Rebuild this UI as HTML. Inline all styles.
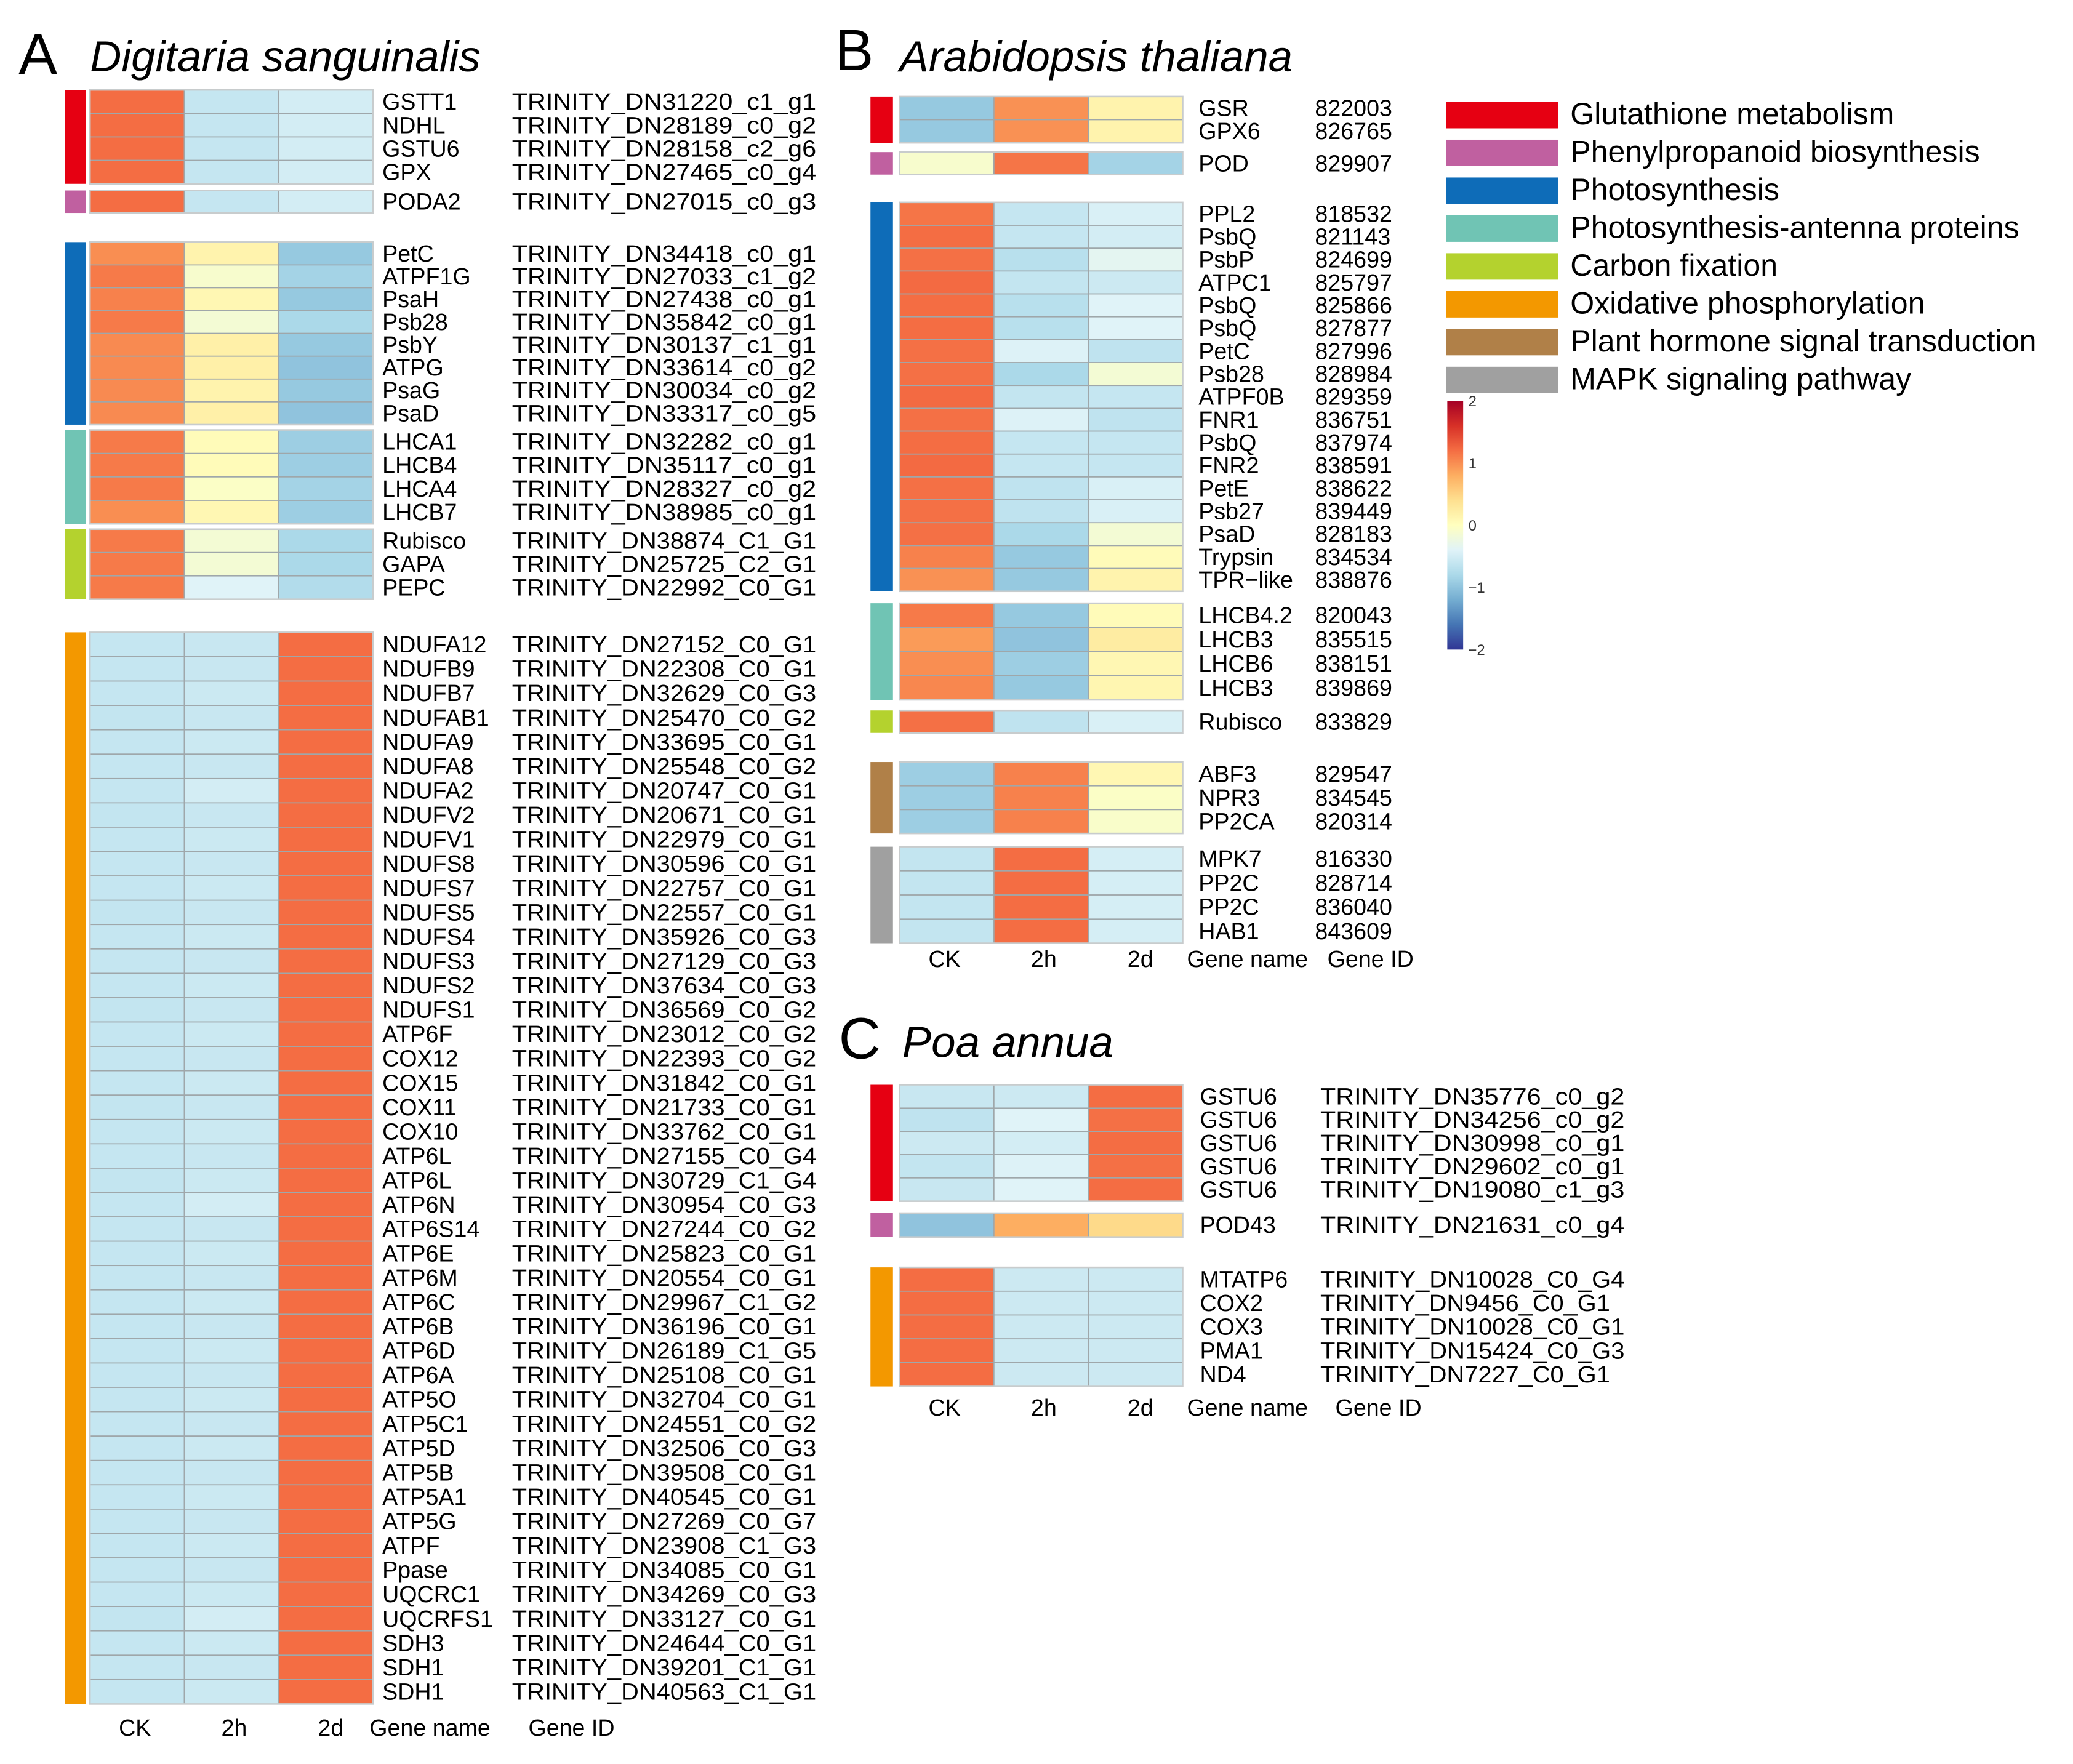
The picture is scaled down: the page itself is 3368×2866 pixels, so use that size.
<!DOCTYPE html>
<html><head><meta charset="utf-8"><style>
html,body{margin:0;padding:0;background:#fff}
svg{display:block;font-family:"Liberation Sans",Arial,sans-serif}
</style></head><body>
<svg id="fig" xmlns="http://www.w3.org/2000/svg" width="3368" height="2866" viewBox="0 0 1567 1333.4" preserveAspectRatio="none">
<rect width="1567" height="1334" fill="#fff"/>
<text x="14" y="56" font-size="44">A</text>
<text x="68" y="54" font-size="33" font-style="italic">Digitaria sanguinalis</text>
<text x="631" y="53" font-size="44">B</text>
<text x="680" y="54" font-size="33" font-style="italic">Arabidopsis thaliana</text>
<text x="634" y="800" font-size="44">C</text>
<text x="682" y="799" font-size="33" font-style="italic">Poa annua</text>
<g id="legend"></g>
<g id="cbar"></g>
<g id="pa"></g>
<g id="pb"></g>
<g id="pc"></g>
</svg>
<script>
// ---------- data ----------
const conditions = ["CK","2h","2d"];
const pathwayNames = ["Glutathione metabolism","Phenylpropanoid biosynthesis","Photosynthesis","Photosynthesis-antenna proteins","Carbon fixation","Oxidative phosphorylation","Plant hormone signal transduction","MAPK signaling pathway"];
const pathwayColors = ["#E60012","#C060A0","#0E6CB8","#70C4B4","#B4D22E","#F39800","#B08048","#A0A0A0"];
const scaleTicks = [2,1,0,-1,-2];

// Panel A
const aNames = ["GSTT1","NDHL","GSTU6","GPX","PODA2","PetC","ATPF1G","PsaH","Psb28","PsbY","ATPG","PsaG","PsaD","LHCA1","LHCB4","LHCA4","LHCB7","Rubisco","GAPA","PEPC",
"NDUFA12","NDUFB9","NDUFB7","NDUFAB1","NDUFA9","NDUFA8","NDUFA2","NDUFV2","NDUFV1","NDUFS8","NDUFS7","NDUFS5","NDUFS4","NDUFS3","NDUFS2","NDUFS1","ATP6F","COX12","COX15","COX11","COX10","ATP6L","ATP6L","ATP6N","ATP6S14","ATP6E","ATP6M","ATP6C","ATP6B","ATP6D","ATP6A","ATP5O","ATP5C1","ATP5D","ATP5B","ATP5A1","ATP5G","ATPF","Ppase","UQCRC1","UQCRFS1","SDH3","SDH1","SDH1"];
const aIds = ["TRINITY_DN31220_c1_g1","TRINITY_DN28189_c0_g2","TRINITY_DN28158_c2_g6","TRINITY_DN27465_c0_g4","TRINITY_DN27015_c0_g3",
"TRINITY_DN34418_c0_g1","TRINITY_DN27033_c1_g2","TRINITY_DN27438_c0_g1","TRINITY_DN35842_c0_g1","TRINITY_DN30137_c1_g1","TRINITY_DN33614_c0_g2","TRINITY_DN30034_c0_g2","TRINITY_DN33317_c0_g5",
"TRINITY_DN32282_c0_g1","TRINITY_DN35117_c0_g1","TRINITY_DN28327_c0_g2","TRINITY_DN38985_c0_g1","TRINITY_DN38874_C1_G1","TRINITY_DN25725_C2_G1","TRINITY_DN22992_C0_G1",
"TRINITY_DN27152_C0_G1","TRINITY_DN22308_C0_G1","TRINITY_DN32629_C0_G3","TRINITY_DN25470_C0_G2","TRINITY_DN33695_C0_G1","TRINITY_DN25548_C0_G2","TRINITY_DN20747_C0_G1","TRINITY_DN20671_C0_G1","TRINITY_DN22979_C0_G1","TRINITY_DN30596_C0_G1","TRINITY_DN22757_C0_G1","TRINITY_DN22557_C0_G1","TRINITY_DN35926_C0_G3","TRINITY_DN27129_C0_G3","TRINITY_DN37634_C0_G3","TRINITY_DN36569_C0_G2","TRINITY_DN23012_C0_G2","TRINITY_DN22393_C0_G2","TRINITY_DN31842_C0_G1","TRINITY_DN21733_C0_G1","TRINITY_DN33762_C0_G1","TRINITY_DN27155_C0_G4","TRINITY_DN30729_C1_G4","TRINITY_DN30954_C0_G3","TRINITY_DN27244_C0_G2","TRINITY_DN25823_C0_G1","TRINITY_DN20554_C0_G1","TRINITY_DN29967_C1_G2","TRINITY_DN36196_C0_G1","TRINITY_DN26189_C1_G5","TRINITY_DN25108_C0_G1","TRINITY_DN32704_C0_G1","TRINITY_DN24551_C0_G2","TRINITY_DN32506_C0_G3","TRINITY_DN39508_C0_G1","TRINITY_DN40545_C0_G1","TRINITY_DN27269_C0_G7","TRINITY_DN23908_C1_G3","TRINITY_DN34085_C0_G1","TRINITY_DN34269_C0_G3","TRINITY_DN33127_C0_G1","TRINITY_DN24644_C0_G1","TRINITY_DN39201_C1_G1","TRINITY_DN40563_C1_G1"];
const aCK = [1.2,1.2,1.2,1.2,1.2, 1.0,1.12,1.08,1.12,1.02,1.02,1.02,1.02, 1.12,1.12,1.12,1.0, 1.12,1.12,1.12,
-0.6,-0.6,-0.6,-0.62,-0.6,-0.6,-0.6,-0.62,-0.6,-0.6,-0.6,-0.62,-0.6,-0.6,-0.6,-0.62,-0.6,-0.6,-0.6,-0.62,-0.6,-0.6,-0.62,-0.6,-0.6,-0.6,-0.6,-0.6,-0.6,-0.6,-0.6,-0.6,-0.6,-0.6,-0.6,-0.6,-0.6,-0.6,-0.6,-0.6,-0.62,-0.6,-0.6,-0.6];
const a2h = [-0.6,-0.6,-0.6,-0.6,-0.6, 0.15,-0.1,0.1,-0.15,0.2,0.2,0.15,0.2, 0.05,0.05,-0.05,0.1, -0.15,-0.15,-0.4,
-0.58,-0.58,-0.56,-0.58,-0.56,-0.58,-0.5,-0.58,-0.56,-0.58,-0.56,-0.58,-0.56,-0.58,-0.56,-0.58,-0.56,-0.58,-0.56,-0.58,-0.56,-0.58,-0.56,-0.5,-0.58,-0.56,-0.58,-0.56,-0.58,-0.56,-0.58,-0.56,-0.58,-0.56,-0.58,-0.56,-0.58,-0.56,-0.58,-0.56,-0.5,-0.56,-0.58,-0.56];
const a2d = [-0.5,-0.5,-0.5,-0.5,-0.5, -0.95,-0.85,-0.95,-0.8,-0.95,-1.0,-0.95,-1.0, -0.9,-0.9,-0.85,-0.9, -0.8,-0.8,-0.75,
1.2,1.2,1.2,1.2,1.2,1.2,1.2,1.2,1.2,1.2,1.2,1.2,1.2,1.2,1.2,1.2,1.2,1.2,1.2,1.2,1.2,1.2,1.2,1.2,1.2,1.2,1.2,1.2,1.2,1.2,1.2,1.2,1.2,1.2,1.2,1.2,1.2,1.2,1.2,1.2,1.2,1.2,1.2,1.2];
const aGroup = [0,0,0,0,1,2,2,2,2,2,2,2,2,3,3,3,3,4,4,4].concat(Array(44).fill(5));

// Panel B
const bNames = ["GSR","GPX6","POD","PPL2","PsbQ","PsbP","ATPC1","PsbQ","PsbQ","PetC","Psb28","ATPF0B","FNR1","PsbQ","FNR2","PetE","Psb27","PsaD","Trypsin","TPR\u2212like","LHCB4.2","LHCB3","LHCB6","LHCB3","Rubisco","ABF3","NPR3","PP2CA","MPK7","PP2C","PP2C","HAB1"];
const bIds = ["822003","826765","829907","818532","821143","824699","825797","825866","827877","827996","828984","829359","836751","837974","838591","838622","839449","828183","834534","838876","820043","835515","838151","839869","833829","829547","834545","820314","816330","828714","836040","843609"];
const bCK = [-0.95,-0.95,-0.1, 1.15,1.2,1.18,1.22,1.2,1.2,1.18,1.18,1.22,1.18,1.2,1.22,1.18,1.18,1.18,1.08,0.98, 1.12,0.92,1.0,1.04, 1.18, -0.9,-0.9,-0.9, -0.62,-0.62,-0.62,-0.62];
const b2h = [0.98,0.98,1.15, -0.6,-0.6,-0.7,-0.62,-0.7,-0.7,-0.42,-0.8,-0.62,-0.42,-0.6,-0.6,-0.65,-0.65,-0.8,-0.95,-0.95, -0.95,-1.0,-0.9,-0.95, -0.65, 1.08,1.08,1.08, 1.2,1.2,1.2,1.2];
const b2d = [0.15,0.15,-0.85, -0.45,-0.5,-0.35,-0.55,-0.4,-0.4,-0.65,-0.15,-0.6,-0.65,-0.6,-0.6,-0.45,-0.45,-0.15,0.05,0.15, 0.05,0.25,0.1,0.12, -0.45, 0.1,-0.05,-0.08, -0.48,-0.48,-0.48,-0.48];
const bGroup = [0,0,1].concat(Array(17).fill(2),[3,3,3,3,4,6,6,6,7,7,7,7]);

// Panel C
const cNames = ["GSTU6","GSTU6","GSTU6","GSTU6","GSTU6","POD43","MTATP6","COX2","COX3","PMA1","ND4"];
const cIds = ["TRINITY_DN35776_c0_g2","TRINITY_DN34256_c0_g2","TRINITY_DN30998_c0_g1","TRINITY_DN29602_c0_g1","TRINITY_DN19080_c1_g3","TRINITY_DN21631_c0_g4","TRINITY_DN10028_C0_G4","TRINITY_DN9456_C0_G1","TRINITY_DN10028_C0_G1","TRINITY_DN15424_C0_G3","TRINITY_DN7227_C0_G1"];
const cCK = [-0.58,-0.65,-0.55,-0.62,-0.58, -1.0, 1.2,1.2,1.2,1.2,1.2];
const c2h = [-0.55,-0.4,-0.5,-0.42,-0.4, 0.8, -0.55,-0.55,-0.55,-0.55,-0.55];
const c2d = [1.2,1.18,1.2,1.18,1.2, 0.45, -0.55,-0.55,-0.55,-0.55,-0.55];
const cGroup = [0,0,0,0,0,1,5,5,5,5,5];

// ---------- helpers ----------
const NS="http://www.w3.org/2000/svg";
function mk(tag,attrs,parent){const e=document.createElementNS(NS,tag);for(const k in attrs)e.setAttribute(k,attrs[k]);parent.appendChild(e);return e;}
const stops=["#313695","#4575B4","#74ADD1","#ABD9E9","#E0F3F8","#FFFFBF","#FEE090","#FDAE61","#F46D43","#D73027","#A50026"];
function hex(h){return [1,3,5].map(i=>parseInt(h.substr(i,2),16));}
function colorOf(v){let t=(Math.max(-2,Math.min(2,v))+2)/0.4;let i=Math.min(9,Math.floor(t));let f=t-i;const a=hex(stops[i]),b=hex(stops[i+1]);return "rgb("+a.map((x,j)=>Math.round(x+(b[j]-x)*f)).join(",")+")";}

function drawPanel(g,cfg,names,ids,ck,h2,d2,grp){
  const vals=[ck,h2,d2];
  const colW=(cfg.x1-cfg.x0)/3;
  let idx=0;
  cfg.blocks.forEach(bl=>{
    const n=bl.n, top=bl.y0, bot=bl.y1, rh=(bot-top)/n;
    const gi=grp[idx];
    const sb=mk("rect",{x:cfg.cx,y:top,width:cfg.cw,height:bot-top,fill:pathwayColors[gi]},g);
    
    
    for(let r=0;r<n;r++){
      const k=idx+r, y=top+r*rh;
      for(let c=0;c<3;c++){
        const cell=mk("rect",{x:cfg.x0+c*colW,y:y,width:colW,height:rh,fill:colorOf(vals[c][k]),stroke:"#9FA7AA","stroke-width":0.8},g);
        
        
      }
      const t1=mk("text",{x:cfg.nx,y:y+rh/2+6,"font-size":17.5},g);t1.textContent=names[k];
      
      
      const t2=mk("text",{x:cfg.ix,y:y+rh/2+6,"font-size":17.5},g);t2.textContent=ids[k];
      if(cfg.idLen)t2.setAttribute("textLength",cfg.idLen*ids[k].length/21),t2.setAttribute("lengthAdjust","spacingAndGlyphs");
      
      
    }
    mk("rect",{x:cfg.x0,y:top,width:cfg.x1-cfg.x0,height:bot-top,fill:"none",stroke:"#C8CCCD","stroke-width":1.2},g);
    idx+=n;
  });
  const labs=conditions.concat(["Gene name","Gene ID"]);
  cfg.labX.forEach((x,i)=>{
    const t=mk("text",{x:x,y:cfg.labY,"font-size":17.5,"text-anchor":"middle"},g);t.textContent=labs[i];
    
    
  });
}

drawPanel(document.getElementById("pa"),{cx:49,cw:16,x0:68,x1:282,nx:289,ix:387,idLen:230,labY:1312,labX:[102,177,250,325,432],
  blocks:[{n:4,y0:68,y1:139},{n:1,y0:144,y1:161},{n:8,y0:183,y1:321},{n:4,y0:325,y1:396},{n:3,y0:400,y1:453},{n:44,y0:478,y1:1288}]},
  aNames,aIds,aCK,a2h,a2d,aGroup);
drawPanel(document.getElementById("pb"),{cx:658,cw:17,x0:680,x1:894,nx:906,ix:994,labY:731,labX:[714,789,862,943,1036],
  blocks:[{n:2,y0:73,y1:108},{n:1,y0:115,y1:132},{n:17,y0:153,y1:447},{n:4,y0:456,y1:529},{n:1,y0:537,y1:554},{n:3,y0:576,y1:630},{n:4,y0:640,y1:713}]},
  bNames,bIds,bCK,b2h,b2d,bGroup);
drawPanel(document.getElementById("pc"),{cx:658,cw:17,x0:680,x1:894,nx:907,ix:998,idLen:230,labY:1070,labX:[714,789,862,943,1042],
  blocks:[{n:5,y0:820,y1:908},{n:1,y0:917,y1:935},{n:5,y0:958,y1:1048}]},
  cNames,cIds,cCK,c2h,c2d,cGroup);

// legend
const lg=document.getElementById("legend");
pathwayNames.forEach((nm,i)=>{
  const y=77+i*28.6;
  const r=mk("rect",{x:1093,y:y,width:85,height:20,fill:pathwayColors[i]},lg);
  
  
  const t=mk("text",{x:1187,y:y+17,"font-size":23.3},lg);t.textContent=nm;
  
  
});

// color scale
const cb=document.getElementById("cbar");
const defs=mk("defs",{},cb);
const lgd=mk("linearGradient",{id:"gr",x1:0,y1:1,x2:0,y2:0},defs);
stops.forEach((s,i)=>mk("stop",{offset:(i/10),"stop-color":s},lgd));
const cbTop=303, cbBot=491;
const bar=mk("rect",{x:1094,y:cbTop,width:12,height:cbBot-cbTop,fill:"url(#gr)"},cb);


scaleTicks.forEach(v=>{
  const y=cbTop+(2-v)/4*(cbBot-cbTop);
  const t=mk("text",{x:1110,y:y+4,"font-size":11,fill:"#333"},cb);t.textContent=v<0?"\u2212"+(-v):String(v);
  
  
});
</script>
</body></html>
